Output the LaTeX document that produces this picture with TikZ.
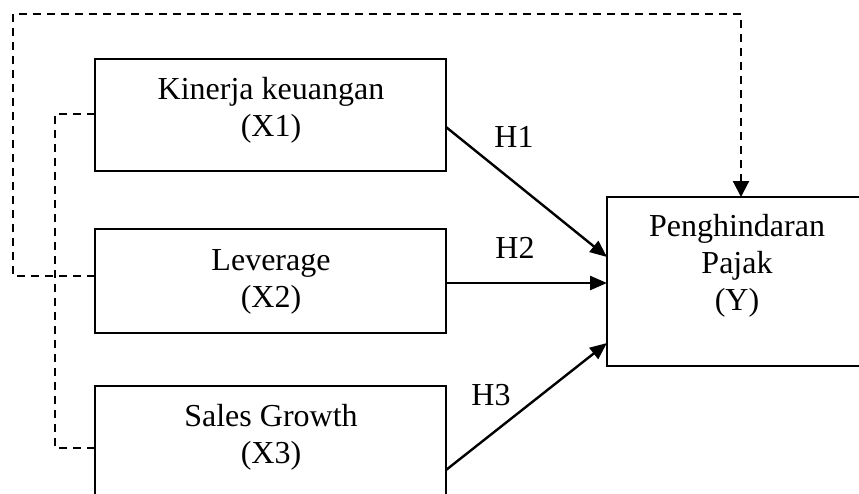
\documentclass[tikz,border=0pt]{standalone}
\usepackage{fontspec}
\setmainfont{Liberation Serif}
\usetikzlibrary{arrows.meta}
\begin{document}
\begin{tikzpicture}[x=1pt,y=-1pt,
  box/.style={draw=black,line width=2pt,rectangle,inner sep=0pt,outer sep=0pt},
  lbl/.style={inner sep=0pt,anchor=base,font=\fontsize{32}{37}\selectfont},
  hyp/.style={draw=black,line width=2.4pt,-{Triangle[length=17pt,width=14pt]}},
  dashline/.style={draw=black,line width=2.2pt,dash pattern=on 8pt off 6pt}]
\useasboundingbox (0,0) rectangle (859,493);
% boxes
\node[box,minimum width=351pt,minimum height=112pt] (x1) at (270.5,115) {};
\node[box,minimum width=351pt,minimum height=104pt] (x2) at (270.5,281) {};
\node[box,minimum width=351pt,minimum height=144pt] (x3) at (270.5,458) {};
\node[box,minimum width=260pt,minimum height=169pt] (y) at (737,281.5) {};
% texts
\node[lbl] (t1a) at (271,99) {Kinerja keuangan};
\node[lbl] (t1b) at (271,136) {(X1)};
\node[lbl] (t2a) at (271,270) {Leverage};
\node[lbl] (t2b) at (271,307) {(X2)};
\node[lbl] (t3a) at (271,426) {Sales Growth};
\node[lbl] (t3b) at (271,463) {(X3)};
\node[lbl] (tya) at (737,236) {Penghindaran};
\node[lbl] (tyb) at (737,273) {Pajak};
\node[lbl] (tyc) at (737,310) {(Y)};
% hypothesis arrows
\draw[hyp] ([yshift=-12pt]x1.east) -- ([yshift=24.5pt]y.west);
\draw[hyp] ([yshift=-2pt]x2.east) -- ([yshift=-1.5pt]y.west);
\draw[hyp] ([yshift=-12pt]x3.east) -- ([yshift=-61.5pt]y.west);
\node[lbl] (h1) at (514,147) {H1};
\node[lbl] (h2) at (515,258) {H2};
\node[lbl] (h3) at (491,405) {H3};
% dashed connections
\coordinate (d1) at (55,114);
\coordinate (d2) at (55,448);
\draw[dashline] ([yshift=1pt]x1.west) -- (d1) -- (d2) -- ([yshift=10pt]x3.west);
\coordinate (o1) at (13,276);
\coordinate (o2) at (13,14);
\coordinate (o3) at (741,14);
\draw[dashline,-{Triangle[length=16pt,width=16pt]}] ([yshift=5pt]x2.west) -- (o1) -- (o2) -- (o3) -- (y.north -| o3);
\end{tikzpicture}
\end{document}
